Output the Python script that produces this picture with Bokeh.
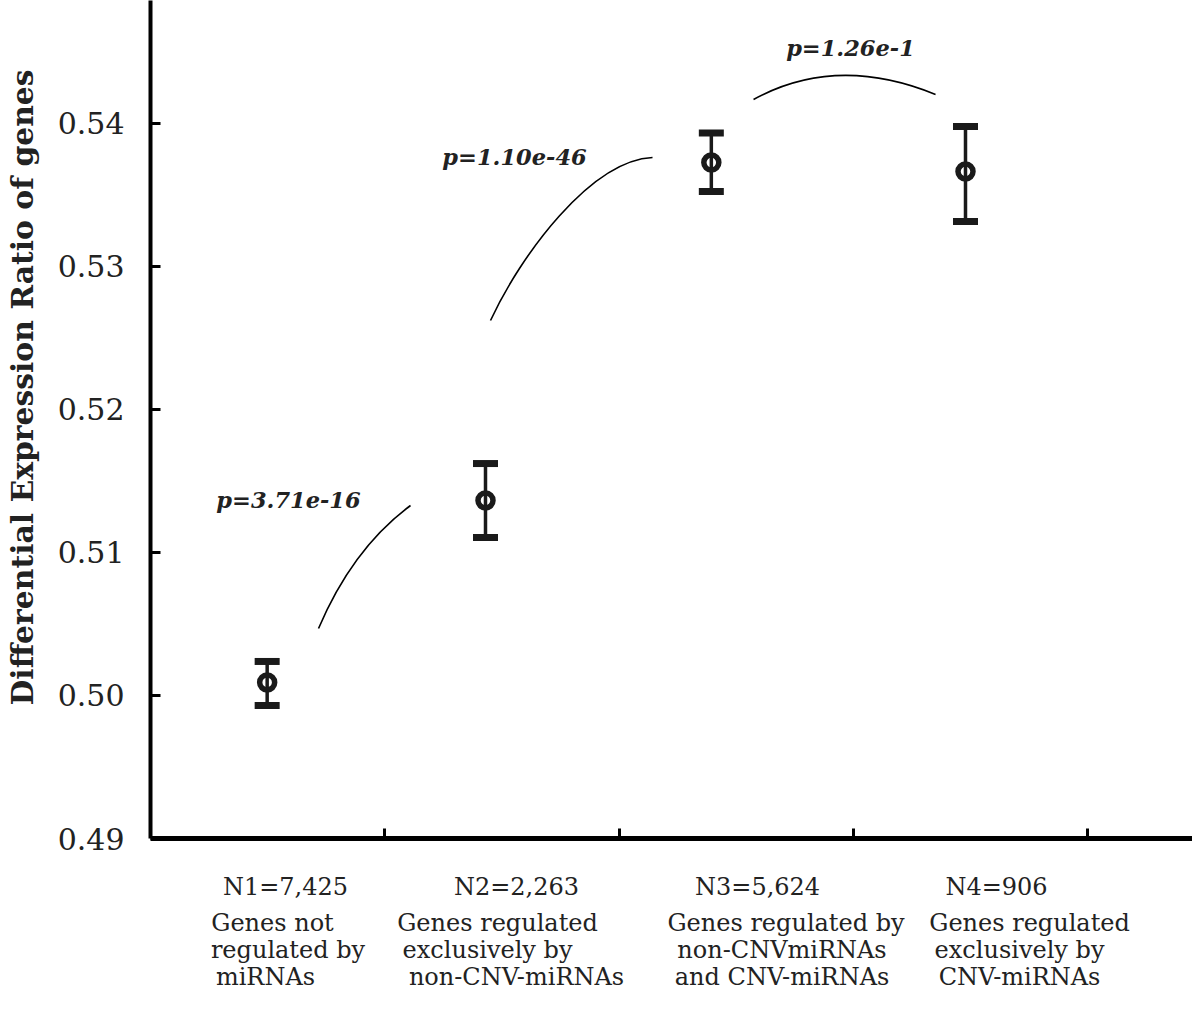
from bokeh.plotting import figure
from bokeh.models import (ColumnDataSource, Range1d, FixedTicker, Whisker, TeeHead,
                          Label, NumeralTickFormatter, LinearAxis, Title)
from bokeh.embed import file_html
from bokeh.resources import INLINE

# ---------------- data ----------------
group_names = ["N1", "N2", "N3", "N4"]
group_x = [0.498, 1.430, 2.394, 3.479]
ratio_mean = [0.50091, 0.51364, 0.53727, 0.53664]
ratio_upper = [0.50238, 0.51622, 0.53934, 0.53979]
ratio_lower = [0.49930, 0.51105, 0.53524, 0.53315]

n_labels = ["N1=7,425", "N2=2,263", "N3=5,624", "N4=906"]
desc_line1 = ["Genes not", "Genes regulated", "Genes regulated by", "Genes regulated"]
desc_line2 = ["regulated by", "exclusively by", "non-CNVmiRNAs", "exclusively by"]
desc_line3 = ["miRNAs", "non-CNV-miRNAs", "and CNV-miRNAs", "CNV-miRNAs"]
p_values = ["p=3.71e-16", "p=1.10e-46", "p=1.26e-1"]
y_ticks = [0.49, 0.50, 0.51, 0.52, 0.53, 0.54]
x_ticks = [1, 2, 3, 4]
y_title = "Differential Expression Ratio of genes"

# ---------------- layout ----------------
FONT = "DejaVu Serif"
X_END = 4.448
Y_START, Y_END = 0.49, 0.5486

# label anchor positions (x, data units) for the text rows under the axis
n_label_pos = [0.5763, 1.5624, 2.5913, 3.6115]
line1_pos = [0.5208, 1.4813, 2.7129, 3.7524]
line2_pos = [0.5870, 1.4387, 2.6958, 3.7097]
line3_pos = [0.4909, 1.5624, 2.6958, 3.7097]

p_text_x = [0.589, 1.554, 2.988]
p_text_y = [0.513636, 0.537622, 0.545245]

# connector curves (data units)
quad_x0 = [0.7172, 2.5742]
quad_y0 = [0.504685, 0.541678]
quad_cx = [0.8623, 2.9285]
quad_cy = [0.510280, 0.544860]
quad_x1 = [1.1099, 3.3511]
quad_y1 = [0.513287, 0.542028]
bez_x0, bez_y0 = [1.4514], [0.526224]
bez_cx0, bez_cy0 = [1.5795], [0.530769]
bez_cx1, bez_cy1 = [1.8784], [0.537413]
bez_x1, bez_y1 = [2.1430], [0.537622]

p = figure(width=1192, height=994, output_backend="svg", toolbar_location=None,
           x_range=Range1d(0, X_END), y_range=Range1d(Y_START, Y_END),
           min_border_left=150, min_border_right=0, min_border_top=0,
           min_border_bottom=156, background_fill_color="white",
           border_fill_color="white", outline_line_color=None)
p.grid.visible = False

# y axis
ya = p.yaxis[0]
ya.ticker = FixedTicker(ticks=y_ticks)
ya.formatter = NumeralTickFormatter(format="0.00")
ya.axis_line_width = 4
ya.axis_line_color = "black"
ya.major_tick_in = 10
ya.major_tick_out = 0
ya.major_tick_line_width = 3
ya.minor_tick_line_color = None
ya.major_label_text_font = FONT
ya.major_label_text_font_size = "30px"
ya.major_label_text_color = "#222222"
ya.major_label_standoff = 26
ya.axis_label = " "
ya.axis_label_text_font_size = "10px"
ya.axis_label_standoff = 1

# y title (placed in the left panel, aligned like the reference)
p.add_layout(Title(text=y_title, align="left", offset=133, standoff=0,
                   text_font=FONT, text_font_size="29.8px",
                   text_font_style="bold", text_color="#222222"), "left")

# main x axis
xa = p.xaxis[0]
xa.ticker = FixedTicker(ticks=x_ticks)
xa.major_label_overrides = {t: "" for t in x_ticks}
xa.major_label_text_font_size = "1px"
xa.major_label_standoff = 0
xa.axis_line_width = 5
xa.axis_line_color = "black"
xa.major_tick_in = 10
xa.major_tick_out = 0
xa.major_tick_line_width = 3
xa.minor_tick_line_color = None


def text_row(positions, texts, standoff):
    ax = LinearAxis(ticker=FixedTicker(ticks=positions),
                    major_label_overrides=dict(zip(positions, texts)))
    ax.axis_line_color = None
    ax.major_tick_line_color = None
    ax.minor_tick_line_color = None
    ax.major_tick_in = 0
    ax.major_tick_out = 0
    ax.major_label_standoff = standoff
    ax.major_label_text_font = FONT
    ax.major_label_text_font_size = "24px"
    ax.major_label_text_color = "#222222"
    p.add_layout(ax, "below")


text_row(n_label_pos, n_labels, 34)
text_row(line1_pos, desc_line1, 5)
text_row(line2_pos, desc_line2, -4)
text_row(line3_pos, desc_line3, -4)

# error bars and points
src = ColumnDataSource(data=dict(x=group_x, mean=ratio_mean,
                                 upper=ratio_upper, lower=ratio_lower,
                                 name=group_names))
whisk = Whisker(source=src, base="x", upper="upper", lower="lower",
                line_width=3.5, line_color="#1a1a1a",
                upper_head=TeeHead(size=25, line_width=7, line_color="#1a1a1a"),
                lower_head=TeeHead(size=25, line_width=7, line_color="#1a1a1a"))
p.add_layout(whisk)
p.scatter("x", "mean", source=src, marker="circle", size=15,
          fill_color=None, line_color="#1a1a1a", line_width=5.5)

# connector curves
p.quadratic(x0=quad_x0, y0=quad_y0, x1=quad_x1, y1=quad_y1,
            cx=quad_cx, cy=quad_cy, line_color="black", line_width=1.6)
p.bezier(x0=bez_x0, y0=bez_y0, x1=bez_x1, y1=bez_y1,
         cx0=bez_cx0, cy0=bez_cy0, cx1=bez_cx1, cy1=bez_cy1,
         line_color="black", line_width=1.6)

# p-value labels
for txt, tx, ty in zip(p_values, p_text_x, p_text_y):
    p.add_layout(Label(x=tx, y=ty, text=txt, text_font=FONT,
                       text_font_size="22.5px", text_font_style="bold italic",
                       text_color="#222222", text_align="center",
                       text_baseline="middle"))

open("out.html", "w").write(file_html(p, INLINE))
